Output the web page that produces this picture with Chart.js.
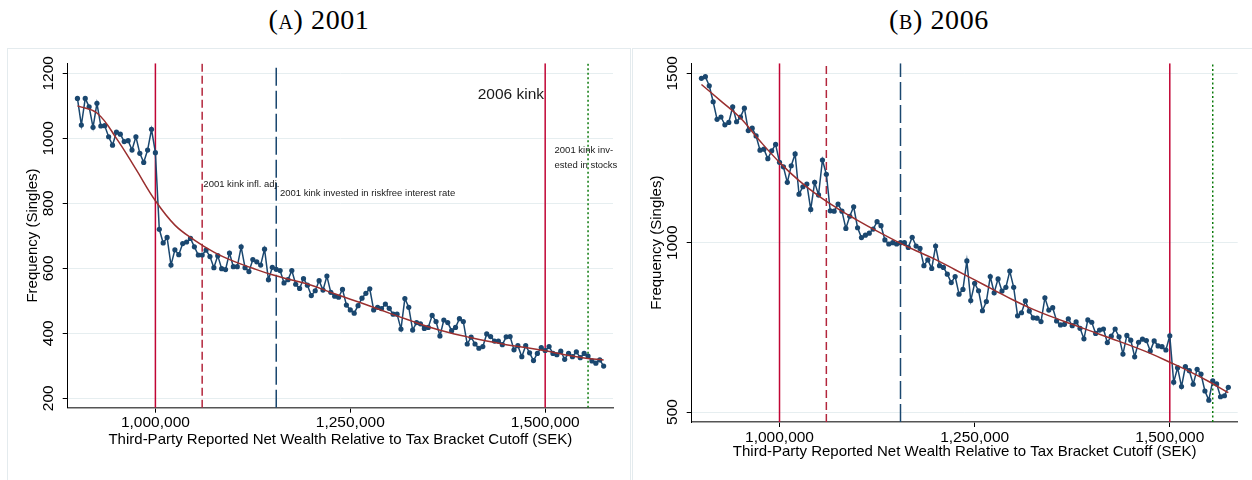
<!DOCTYPE html>
<html>
<head>
<meta charset="utf-8">
<script src="https://cdn.jsdelivr.net/npm/chart.js"></script>
<style>
    body {
        margin: 0;
        width: 1252px;
        height: 480px;
        background: #fff;
        position: relative;
        overflow: hidden;
    }
    .panel-title {
        position: absolute;
        top: 4px;
        line-height: 32px;
        font-family: "Liberation Serif", "DejaVu Serif", serif;
        font-size: 28px;
        letter-spacing: 0.6px;
        font-variant: small-caps;
        text-align: center;
        color: #000;
    }
    .frame {
        position: absolute;
        top: 48px;
        height: 440px;
        border: 1px solid #e4ebee;
        box-sizing: border-box;
    }
    .chart-box {
        position: absolute;
        top: 48px;
    }
</style>
</head>
<body>
<div class="panel-title" style="left:8px;width:622px;">(a) 2001</div>
<div class="panel-title" style="left:633px;width:612px;">(b) 2006</div>
<div class="frame" style="left:7px;width:624px;"></div>
<div class="frame" style="left:632px;width:630px;"></div>
<div class="chart-box" style="left:8px;"><canvas id="chart2001" width="622" height="432"></canvas></div>
<div class="chart-box" style="left:633px;"><canvas id="chart2006" width="612" height="432"></canvas></div>

<script>
// Bin positions (SEK), 5,000 wide bins
const bins = [
    900000, 905000, 910000, 915000, 920000, 925000, 930000, 935000, 940000, 945000,
    950000, 955000, 960000, 965000, 970000, 975000, 980000, 985000, 990000, 995000,
    1000000, 1005000, 1010000, 1015000, 1020000, 1025000, 1030000, 1035000, 1040000, 1045000,
    1050000, 1055000, 1060000, 1065000, 1070000, 1075000, 1080000, 1085000, 1090000, 1095000,
    1100000, 1105000, 1110000, 1115000, 1120000, 1125000, 1130000, 1135000, 1140000, 1145000,
    1150000, 1155000, 1160000, 1165000, 1170000, 1175000, 1180000, 1185000, 1190000, 1195000,
    1200000, 1205000, 1210000, 1215000, 1220000, 1225000, 1230000, 1235000, 1240000, 1245000,
    1250000, 1255000, 1260000, 1265000, 1270000, 1275000, 1280000, 1285000, 1290000, 1295000,
    1300000, 1305000, 1310000, 1315000, 1320000, 1325000, 1330000, 1335000, 1340000, 1345000,
    1350000, 1355000, 1360000, 1365000, 1370000, 1375000, 1380000, 1385000, 1390000, 1395000,
    1400000, 1405000, 1410000, 1415000, 1420000, 1425000, 1430000, 1435000, 1440000, 1445000,
    1450000, 1455000, 1460000, 1465000, 1470000, 1475000, 1480000, 1485000, 1490000, 1495000,
    1500000, 1505000, 1510000, 1515000, 1520000, 1525000, 1530000, 1535000, 1540000, 1545000,
    1550000, 1555000, 1560000, 1565000, 1570000, 1575000
];

// Frequency (singles), 2001
const freq2001 = [
    1123, 1041, 1123, 1097, 1034, 1108, 1038, 1039, 1005, 979,
    1019, 1013, 990, 993, 964, 1005, 954, 926, 964, 1028,
    956, 720, 678, 695, 610, 657, 642, 676, 681, 692,
    666, 641, 641, 656, 636, 602, 639, 599, 596, 647,
    605, 605, 666, 602, 590, 627, 620, 610, 659, 565,
    603, 597, 593, 555, 565, 593, 551, 538, 568, 548,
    516, 531, 562, 533, 576, 526, 514, 511, 535, 487,
    472, 462, 485, 508, 523, 537, 472, 480, 476, 490,
    477, 459, 459, 413, 507, 480, 410, 433, 429, 415,
    418, 455, 436, 392, 441, 433, 408, 418, 445, 436,
    367, 388, 367, 354, 359, 398, 390, 376, 376, 365,
    389, 390, 349, 362, 328, 362, 340, 316, 338, 356,
    347, 359, 338, 334, 345, 320, 338, 328, 343, 325,
    338, 330, 315, 308, 318, 299
];

// Frequency (singles), 2006
const freq2006 = [
    1485, 1490, 1463, 1416, 1364, 1371, 1348, 1355, 1401, 1357,
    1371, 1397, 1331, 1338, 1315, 1273, 1276, 1248, 1271, 1290,
    1237, 1224, 1178, 1227, 1262, 1143, 1165, 1173, 1098, 1178,
    1141, 1244, 1202, 1094, 1093, 1114, 1093, 1042, 1078, 1106,
    1044, 1015, 1022, 1028, 1040, 1062, 1050, 1008, 996, 1000,
    996, 1000, 1000, 986, 1016, 990, 983, 932, 949, 924,
    990, 932, 927, 907, 882, 900, 848, 862, 946, 829,
    880, 858, 799, 826, 900, 852, 893, 857, 868, 916,
    868, 784, 793, 828, 798, 778, 777, 767, 837, 801,
    808, 769, 757, 759, 775, 755, 766, 747, 716, 772,
    765, 732, 742, 745, 705, 724, 745, 722, 671, 726,
    712, 663, 706, 715, 711, 680, 710, 695, 693, 683,
    725, 588, 631, 575, 634, 622, 582, 626, 612, 562,
    535, 592, 583, 545, 548, 573
];

// Fitted polynomial, read at every fifth bin
const fitBins = [
    900000, 925000, 950000, 975000, 1000000, 1025000, 1050000, 1075000, 1100000, 1125000,
    1150000, 1175000, 1200000, 1225000, 1250000, 1275000, 1300000, 1325000, 1350000, 1375000,
    1400000, 1425000, 1450000, 1475000, 1500000, 1525000, 1550000, 1575000
];
const fit2001 = [
    1100, 1078, 1000, 905, 808, 733, 687, 650, 622, 600,
    580, 564, 548, 526, 505, 484, 462, 441, 420, 403,
    389, 376, 365, 356, 346, 334, 324, 318
];
const fit2006 = [
    1467, 1418, 1368, 1300, 1237, 1183, 1138, 1100, 1066, 1034,
    1004, 976, 950, 920, 890, 860, 830, 803, 780, 759,
    738, 717, 696, 673, 647, 620, 590, 557
];

// Kink thresholds (SEK)
const kinkValues = [1000000, 1060000, 1155000, 1500000, 1555000];

// Axis ticks
const xTicks = [1000000, 1250000, 1500000];
const yTicks2001 = [200, 400, 600, 800, 1000, 1200];
const yTicks2006 = [500, 1000, 1500];

const FONT = '"Liberation Sans", Arial, sans-serif';
const NAVY = '#1a476f';
const MAROON = '#9a2f2f';

// Line styles of the kink markers, same order as kinkValues
const kinkStyles = [
    { color: '#c10534', dash: [] },
    { color: '#b3263c', dash: [8, 4] },
    { color: '#1a476f', dash: [18, 5] },
    { color: '#c10534', dash: [] },
    { color: '#0a7a0a', dash: [2, 2.5] }
];

// Draws the rotated y labels and the text notes
const panelText = {
    id: 'panelText',
    afterDraw(chart, args, opts) {
        const ctx = chart.ctx;
        const xs = chart.scales.x;
        const ys = chart.scales.y;
        ctx.save();
        ctx.fillStyle = '#000';
        ctx.font = `15.5px ${FONT}`;
        ctx.textAlign = 'center';
        ctx.textBaseline = 'middle';
        opts.yTicks.forEach(v => {
            ctx.save();
            ctx.translate(chart.chartArea.left - 19, ys.getPixelForValue(v));
            ctx.rotate(-Math.PI / 2);
            ctx.fillText(String(v), 0, 0);
            ctx.restore();
        });
        ctx.fillStyle = '#1a1a1a';
        opts.notes.forEach(n => {
            ctx.font = `${n.size}px ${FONT}`;
            ctx.textAlign = n.align;
            ctx.fillText(n.text, xs.getPixelForValue(n.x), ys.getPixelForValue(n.y));
        });
        ctx.restore();
    }
};

function makePanel(canvasId, freq, fit, yTicks, yMin, yMax, L, notes) {
    const datasets = [];

    // Fitted curve on top
    datasets.push({
        data: fitBins.map((b, i) => ({ x: b, y: fit[i] })),
        showLine: true,
        borderColor: MAROON,
        borderWidth: 1.5,
        pointRadius: 0,
        tension: 0.4,
        order: 1
    });

    // Binned counts
    datasets.push({
        data: freq.map((v, i) => ({ x: bins[i], y: v })),
        showLine: true,
        borderColor: NAVY,
        borderWidth: 1.5,
        pointRadius: 2.6,
        pointBackgroundColor: NAVY,
        pointBorderWidth: 0,
        order: 2
    });

    // Vertical kink lines
    kinkValues.forEach((k, i) => {
        datasets.push({
            data: [{ x: k, y: yMin }, { x: k, y: yMax }],
            showLine: true,
            borderColor: kinkStyles[i].color,
            borderDash: kinkStyles[i].dash,
            borderWidth: 1.5,
            pointRadius: 0,
            order: 3
        });
    });

    return new Chart(document.getElementById(canvasId), {
        type: 'scatter',
        data: { datasets },
        options: {
            responsive: false,
            animation: false,
            layout: { padding: { left: 0, right: L.padRight, top: L.padTop, bottom: 0 } },
            plugins: {
                legend: { display: false },
                tooltip: { enabled: false },
                panelText: { yTicks, notes }
            },
            scales: {
                x: {
                    type: 'linear',
                    min: 887500,
                    max: 1587000,
                    afterBuildTicks: s => { s.ticks = xTicks.map(v => ({ value: v })); },
                    afterFit: s => { s.height = L.xAxisH; },
                    ticks: {
                        color: '#000',
                        font: { family: FONT, size: 15.5 },
                        padding: L.xTickPad,
                        maxRotation: 0,
                        callback: v => v.toLocaleString('en-US')
                    },
                    grid: { drawOnChartArea: false, tickLength: 5, tickColor: '#000' },
                    border: { color: '#555', width: 1.5 },
                    title: {
                        display: true,
                        text: 'Third-Party Reported Net Wealth Relative to Tax Bracket Cutoff (SEK)',
                        color: '#000',
                        font: { family: FONT, size: 15 },
                        padding: { top: 0, bottom: L.xTitlePad }
                    }
                },
                y: {
                    min: yMin,
                    max: yMax,
                    afterBuildTicks: s => { s.ticks = yTicks.map(v => ({ value: v })); },
                    afterFit: s => { s.width = L.yAxisW; },
                    ticks: { color: 'rgba(0,0,0,0)', font: { family: FONT, size: 15.5 } },
                    grid: { color: '#e6eef0', tickLength: 5, tickColor: '#000' },
                    border: { color: '#000', width: 1 },
                    title: {
                        display: true,
                        text: 'Frequency (Singles)',
                        color: '#000',
                        font: { family: FONT, size: 15 },
                        padding: { top: L.yTitlePad, bottom: 0 }
                    }
                }
            }
        },
        plugins: [panelText]
    });
}

document.addEventListener('DOMContentLoaded', () => {
    makePanel('chart2001', freq2001, fit2001, yTicks2001, 171, 1231,
        { padRight: 17, padTop: 15.3, xAxisH: 72.3, yAxisW: 59.7, xTickPad: 1, xTitlePad: 31, yTitlePad: 16 },
        [
            { text: '2006 kink', x: 1498500, y: 1133, align: 'right', size: 15.5 },
            { text: '2001 kink inv-', x: 1512000, y: 964, align: 'left', size: 9.5 },
            { text: 'ested in stocks', x: 1512000, y: 918, align: 'left', size: 9.5 },
            { text: '2001 kink infl. adj.', x: 1061500, y: 859, align: 'left', size: 9.5 },
            { text: '2001 kink invested in riskfree interest rate', x: 1159700, y: 831, align: 'left', size: 9.5 }
        ]);

    makePanel('chart2006', freq2006, fit2006, yTicks2006, 470.5, 1529.5,
        { padRight: 7.3, padTop: 15.3, xAxisH: 58, yAxisW: 58.7, xTickPad: 1.5, xTitlePad: 19, yTitlePad: 15 },
        []);
});
</script>
</body>
</html>
